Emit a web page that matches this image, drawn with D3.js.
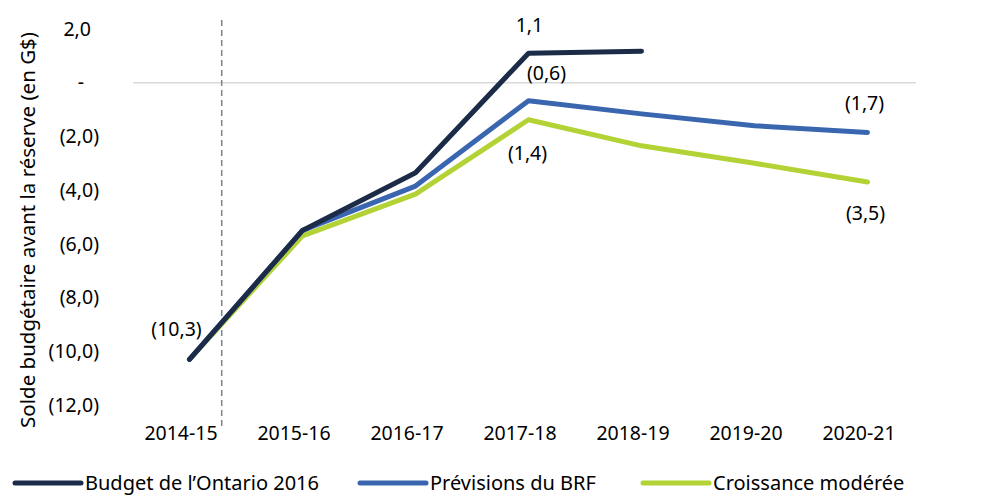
<!DOCTYPE html>
<html>
<head>
<meta charset="utf-8">
<script src="https://cdn.jsdelivr.net/npm/d3@7"></script>
<style>
  body { margin: 0; background: #fff; }
  svg text { font-family: "Noto Sans", "Open Sans", sans-serif; fill: #000; }
</style>
</head>
<body>
<svg id="chart" width="1001" height="500"></svg>
<script>
const years = ["2014-15","2015-16","2016-17","2017-18","2018-19","2019-20","2020-21"];
const budget2016 = [-10.3, -5.5, -3.35, 1.1, 1.17, null, null];
const previsionsBRF = [-10.3, -5.5, -3.85, -0.67, -1.16, -1.6, -1.85];
const croissance = [-10.3, -5.7, -4.15, -1.38, -2.35, -3.0, -3.7];
const yTicks = [2, 0, -2, -4, -6, -8, -10, -12];

const series = [
  { name: "Budget de l\u2019Ontario 2016", values: budget2016, color: "#1c2b48" },
  { name: "Pr\u00e9visions du BRF", values: previsionsBRF, color: "#3a66b0" },
  { name: "Croissance mod\u00e9r\u00e9e", values: croissance, color: "#b2d235" }
];

// value labels: [series index, year index, text, dx, dy]
const pointLabels = [
  [0, 0, "(10,3)", -13, -30],
  [0, 3, "1,1", 1, -28],
  [1, 3, "(0,6)", 18, -28],
  [2, 3, "(1,4)", -1, 33],
  [1, 6, "(1,7)", -3, -29],
  [2, 6, "(3,5)", -2, 31]
];

const svg = d3.select("#chart");
const fmtNum = v => d3.format(".1f")(v).replace(".", ",");
const fmtTick = v => v === 0 ? "-" : v < 0 ? `(${fmtNum(-v)})` : fmtNum(v);
const fs = 19.5;

const x = d3.scalePoint().domain(years).range([133, 924]).padding(0.5);
const y = d3.scaleLinear().domain([-12, 2]).range([405, 29]);

// zero gridline
svg.append("line")
  .attr("x1", 133).attr("x2", 916)
  .attr("y1", y(0)).attr("y2", y(0))
  .attr("stroke", "#d9d9d9").attr("stroke-width", 1.5);

// dashed divider between actual and projections
const divX = x(years[0]) + x.step() * 0.285;
svg.append("line")
  .attr("x1", divX).attr("x2", divX)
  .attr("y1", 20).attr("y2", 428)
  .attr("stroke", "#7a8594").attr("stroke-width", 1.5)
  .attr("stroke-dasharray", "6,4");

// y axis
const gy = svg.append("g")
  .attr("transform", "translate(99,0)")
  .call(d3.axisLeft(y).tickValues(yTicks).tickFormat(fmtTick).tickSize(0).tickPadding(0));
gy.select(".domain").remove();
gy.selectAll("text")
  .attr("font-size", fs)
  .attr("x", d => d < 0 ? 0 : d === 0 ? -15 : -8)
  .style("font-family", "\"Noto Sans\", sans-serif");

// x axis
const gx = svg.append("g")
  .attr("transform", "translate(0,433)")
  .call(d3.axisBottom(x).tickSize(0).tickPadding(0));
gx.select(".domain").remove();
gx.selectAll("text")
  .attr("font-size", fs)
  .attr("dx", -9)
  .attr("dy", "0.35em")
  .style("font-family", "\"Noto Sans\", sans-serif");

// y axis title
svg.append("text")
  .attr("transform", "translate(28,230) rotate(-90)")
  .attr("text-anchor", "middle")
  .attr("dy", "0.35em")
  .attr("font-size", 20.5)
  .text("Solde budg\u00e9taire avant la r\u00e9serve (en G$)");

// lines
const line = d3.line()
  .defined(d => d.v != null)
  .x(d => x(d.year))
  .y(d => y(d.v));

// draw green first, then blue, then navy on top
series.slice().reverse().forEach(s => {
  svg.append("path")
    .datum(years.map((yr, i) => ({ year: yr, v: s.values[i] })))
    .attr("d", line)
    .attr("fill", "none")
    .attr("stroke", s.color)
    .attr("stroke-width", 5)
    .attr("stroke-linejoin", "round")
    .attr("stroke-linecap", "round");
});

// value labels
svg.append("g").selectAll("text").data(pointLabels).join("text")
  .attr("x", d => x(years[d[1]]) + d[3])
  .attr("y", d => y(series[d[0]].values[d[1]]) + d[4])
  .attr("text-anchor", "middle")
  .attr("dy", "0.35em")
  .attr("font-size", fs)
  .text(d => d[2]);

// legend
const legendX = [15, 360, 643];
const lg = svg.append("g").attr("transform", "translate(0,483)");
series.forEach((s, i) => {
  lg.append("line")
    .attr("x1", legendX[i]).attr("x2", legendX[i] + 66)
    .attr("y1", 0).attr("y2", 0)
    .attr("stroke", s.color).attr("stroke-width", 5)
    .attr("stroke-linecap", "round");
  lg.append("text")
    .attr("x", legendX[i] + 70)
    .attr("dy", "0.35em")
    .attr("font-size", 20)
    .text(s.name);
});
</script>
</body>
</html>
